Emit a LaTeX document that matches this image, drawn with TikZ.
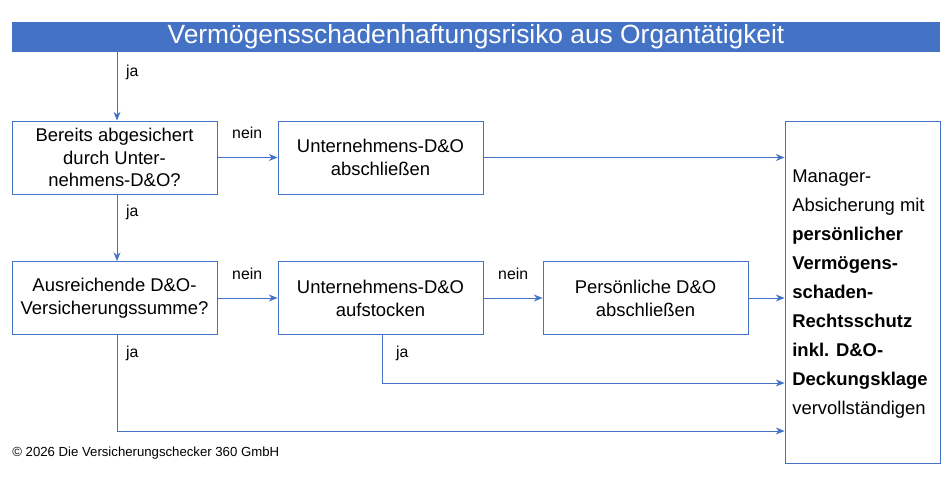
\documentclass[tikz,border=0pt]{standalone}
\usepackage{fontspec}
\setmainfont{Liberation Sans}
\usetikzlibrary{arrows.meta}
\definecolor{bl}{HTML}{4472C4}
\begin{document}
\begin{tikzpicture}[x=0.02cm,y=-0.02cm,
  box/.style={draw=bl,line width=0.5pt,minimum width=4.1cm,minimum height=1.46cm,align=center,font=\fontsize{10.5}{13}\selectfont,inner sep=1pt},
  arr/.style={draw=bl,line width=0.5pt,-{Stealth[length=5pt,width=4pt]}},
  lbl/.style={font=\fontsize{9}{11}\selectfont,anchor=west}]
\useasboundingbox (0,0) rectangle (949,482);
\node[fill=bl,minimum width=18.56cm,minimum height=0.6cm,text=white,font=\fontsize{15}{18}\selectfont,inner sep=0pt] (t) at (476,37) {Vermögensschadenhaftungsrisiko aus Organtätigkeit};
\node[box] (b1) at (114.5,157.5) {Bereits abgesichert\\ durch Unter-\\nehmens-D\&O?};
\node[box] (b2) at (380.5,157.5) {Unternehmens-D\&O\\abschließen};
\node[box] (b3) at (114.5,298) {Ausreichende D\&O-\\Versicherungssumme?};
\node[box] (b4) at (380.5,298) {Unternehmens-D\&O\\aufstocken};
\node[box] (b5) at (645.5,298) {Persönliche D\&O\\abschließen};
\node[draw=bl,line width=0.5pt,minimum width=3.1cm,minimum height=6.84cm,inner sep=0pt] (r) at (862.5,292) {};
\node[anchor=west,align=left,font=\fontsize{10.5}{16.5}\selectfont,inner sep=0pt] (rt) at (792,294) {Manager-\\Absicherung mit\\\textbf{persönlicher}\\\textbf{Vermögens-}\\\textbf{schaden-}\\\textbf{Rechtsschutz}\\\textbf{inkl. D\&O-}\\\textbf{Deckungsklage}\\vervollständigen};
\coordinate (c1) at (117,52);
\draw[arr] (c1) -- (b1.north-|c1);
\draw[arr] (b1.south-|c1) -- (b3.north-|c1);
\draw[arr] (b1) -- (b2);
\draw[arr] (b3) -- (b4);
\draw[arr] (b4) -- (b5);
\draw[arr] (b5.east) -- (b5.east-|r.west);
\draw[arr] (b2.east) -- (b2.east-|r.west);
\coordinate (j1) at (382,383);
\coordinate (j2) at (117,431);
\draw[arr] (b4.south-|j1) -- (j1) -- (j1-|r.west);
\draw[arr] (b3.south-|j2) -- (j2) -- (j2-|r.west);
\node[lbl] (l1) at (120,72) {ja};
\node[lbl] (l2) at (120,212) {ja};
\node[lbl] (l3) at (120,353) {ja};
\node[lbl] (l4) at (390,353) {ja};
\node[lbl] (l5) at (226,133) {nein};
\node[lbl] (l6) at (226,274) {nein};
\node[lbl] (l7) at (492,274) {nein};
\node[anchor=west,font=\fontsize{7.5}{9}\selectfont,inner sep=0pt] (cp) at (12,453) {© 2026 Die Versicherungschecker 360 GmbH};
\end{tikzpicture}
\end{document}
